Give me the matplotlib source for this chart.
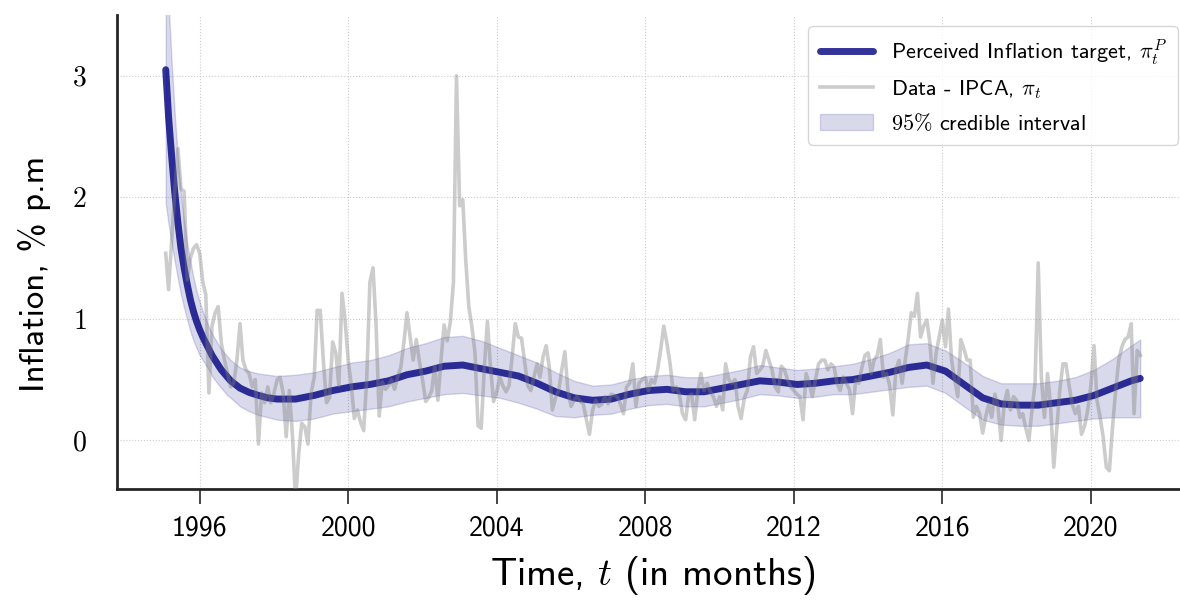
import numpy as np
import pandas as pd
import matplotlib
matplotlib.use("Agg")
import matplotlib.pyplot as plt
import matplotlib.dates as mdates
from matplotlib.ticker import FuncFormatter

plt.rcParams['font.family'] = ['cmss10']
plt.rcParams['mathtext.fontset'] = 'cm'
plt.rcParams['axes.unicode_minus'] = False
plt.rcParams['axes.formatter.use_mathtext'] = True

# Monthly IPCA inflation (% p.m.), Jan 1995 onwards
ipca = [
    1.54, 1.24, 1.65, 2.05, 2.40, 2.07, 2.05, 1.32, 1.50, 1.58, 1.61, 1.54,   # 1995
    1.30, 1.20, 0.39, 0.94, 1.05, 1.10, 0.80, 0.66, 0.55, 0.44, 0.47, 0.66,   # 1996
    0.96, 0.66, 0.58, 0.55, 0.44, 0.50, -0.03, 0.39, 0.31, 0.44, 0.31, 0.39,  # 1997
    0.50, 0.52, 0.39, 0.03, 0.41, 0.05, -0.50, -0.11, 0.14, 0.11, -0.03, 0.39,  # 1998
    0.52, 1.07, 1.07, 0.66, 0.31, 0.35, 0.81, 0.72, 0.45, 1.21, 0.99, 0.66,   # 1999
    0.45, 0.18, 0.25, 0.15, 0.08, 0.50, 1.30, 1.42, 0.95, 0.20, 0.48, 0.42,   # 2000
    0.45, 0.50, 0.42, 0.52, 0.60, 0.80, 1.05, 0.85, 0.66, 0.83, 0.65, 0.50,   # 2001
    0.32, 0.35, 0.41, 0.61, 0.33, 0.65, 0.95, 0.82, 0.97, 1.30, 3.00, 1.93,   # 2002
    1.98, 1.50, 1.10, 0.94, 0.72, 0.12, 0.10, 0.60, 0.98, 0.60, 0.32, 0.40,   # 2003
    0.52, 0.45, 0.40, 0.45, 0.69, 0.96, 0.85, 0.84, 0.65, 0.45, 0.41, 0.52,   # 2004
    0.63, 0.52, 0.69, 0.78, 0.60, 0.25, 0.35, 0.41, 0.58, 0.73, 0.41, 0.28,   # 2005
    0.33, 0.36, 0.32, 0.30, 0.17, 0.05, 0.25, 0.33, 0.28, 0.30, 0.36, 0.30,   # 2006
    0.38, 0.37, 0.36, 0.30, 0.22, 0.44, 0.47, 0.63, 0.28, 0.47, 0.50, 0.52,   # 2007
    0.41, 0.50, 0.47, 0.58, 0.75, 0.94, 0.80, 0.63, 0.41, 0.44, 0.38, 0.22,   # 2008
    0.17, 0.36, 0.38, 0.17, 0.41, 0.55, 0.41, 0.47, 0.40, 0.36, 0.28, 0.36,   # 2009
    0.25, 0.63, 0.50, 0.47, 0.50, 0.28, 0.18, 0.35, 0.41, 0.69, 0.77, 0.55,   # 2010
    0.58, 0.61, 0.74, 0.66, 0.58, 0.44, 0.40, 0.61, 0.58, 0.50, 0.44, 0.41,   # 2011
    0.38, 0.36, 0.17, 0.55, 0.47, 0.36, 0.50, 0.63, 0.66, 0.66, 0.58, 0.63,   # 2012
    0.60, 0.47, 0.41, 0.52, 0.47, 0.42, 0.22, 0.50, 0.47, 0.60, 0.70, 0.72,   # 2013
    0.55, 0.66, 0.70, 0.83, 0.52, 0.55, 0.45, 0.21, 0.58, 0.66, 0.47, 0.66,   # 2014
    0.85, 1.05, 1.02, 1.21, 0.85, 0.94, 0.99, 0.80, 0.47, 0.72, 0.85, 0.99,   # 2015
    0.77, 1.08, 0.66, 0.50, 0.36, 0.83, 0.75, 0.66, 0.66, 0.19, 0.28, 0.22,   # 2016
    0.06, 0.19, 0.30, 0.19, 0.38, 0.28, 0.00, 0.30, 0.41, 0.25, 0.36, 0.33,   # 2017
    0.19, 0.22, 0.10, 0.00, 0.25, 0.47, 1.46, 0.52, 0.19, 0.55, 0.28, -0.22,  # 2018
    0.11, 0.41, 0.63, 0.63, 0.45, 0.30, 0.22, 0.28, 0.05, 0.12, 0.25, 0.45,   # 2019
    0.78, 0.33, 0.19, 0.03, -0.22, -0.25, 0.11, 0.41, 0.66, 0.77, 0.83, 0.85,  # 2020
    0.96, 0.22, 0.74, 0.70,                                                   # 2021
]

# Perceived inflation target: posterior mean and 95% band (months since Jan 1995)
trend_month = [0, 1, 2, 3, 4, 5, 6, 7, 8, 9, 10, 11, 12, 14, 15, 17, 18, 20, 21, 24,
               27, 30, 33, 36, 42, 48, 54, 60, 66, 72, 78, 84, 90, 96, 102, 108, 114,
               120, 126, 132, 138, 144, 150, 156, 162, 168, 174, 180, 186, 192, 198,
               204, 210, 216, 222, 228, 234, 240, 246, 252, 258, 264, 270, 276, 282,
               288, 294, 300, 306, 312, 315]
trend = [3.05, 2.66, 2.33, 2.04, 1.79, 1.58, 1.42, 1.28, 1.16, 1.06, 0.98, 0.91, 0.85,
         0.75, 0.70, 0.62, 0.58, 0.52, 0.49, 0.43, 0.395, 0.37, 0.35, 0.34,
         0.34, 0.37, 0.41, 0.44, 0.46, 0.49, 0.54, 0.57, 0.61, 0.62, 0.59, 0.56, 0.53,
         0.47, 0.40, 0.35, 0.33, 0.34, 0.38, 0.41, 0.42, 0.40, 0.40, 0.43, 0.46, 0.49,
         0.48, 0.46, 0.47, 0.49, 0.50, 0.53, 0.56, 0.60, 0.62, 0.57, 0.46, 0.35, 0.30,
         0.29, 0.29, 0.31, 0.33, 0.37, 0.43, 0.49, 0.51]
lower = [1.95, 1.78, 1.62, 1.47, 1.33, 1.20, 1.09, 0.99, 0.90, 0.82, 0.76, 0.70, 0.66,
         0.58, 0.53, 0.46, 0.43, 0.37, 0.35, 0.28, 0.24, 0.21, 0.19, 0.17,
         0.16, 0.18, 0.22, 0.24, 0.26, 0.28, 0.32, 0.35, 0.38, 0.39, 0.37, 0.35, 0.31,
         0.26, 0.20, 0.19, 0.21, 0.22, 0.26, 0.29, 0.30, 0.28, 0.28, 0.31, 0.34, 0.38,
         0.37, 0.35, 0.36, 0.38, 0.38, 0.40, 0.42, 0.44, 0.45, 0.39, 0.28, 0.17, 0.13,
         0.12, 0.12, 0.14, 0.16, 0.18, 0.19, 0.19, 0.19]
upper = [4.20, 3.60, 3.10, 2.68, 2.32, 2.03, 1.80, 1.62, 1.47, 1.34, 1.23, 1.14, 1.06,
         0.93, 0.88, 0.79, 0.75, 0.69, 0.66, 0.60, 0.57, 0.55, 0.54, 0.53,
         0.54, 0.56, 0.60, 0.64, 0.66, 0.70, 0.76, 0.80, 0.85, 0.86, 0.82, 0.76, 0.70,
         0.64, 0.56, 0.49, 0.45, 0.46, 0.50, 0.53, 0.54, 0.52, 0.52, 0.55, 0.58, 0.62,
         0.60, 0.58, 0.59, 0.61, 0.63, 0.67, 0.72, 0.79, 0.80, 0.74, 0.64, 0.53, 0.47,
         0.47, 0.47, 0.49, 0.52, 0.58, 0.67, 0.78, 0.83]

dates = pd.date_range('1995-02-01', periods=len(ipca), freq='MS') - pd.Timedelta(days=1)
trend_dates = dates[trend_month]

fig = plt.figure(figsize=(11.8, 6.03), dpi=100)
ax = fig.add_axes([117 / 1180, 114 / 603, 1072 / 1180, 474 / 603])

ax.plot(trend_dates, trend, color='navy', alpha=0.8, lw=5, solid_capstyle='round',
        label=r'Perceived Inflation target, $\pi_t^P$', zorder=3)
ax.plot(dates, ipca, color='gray', alpha=0.4, lw=2.6,
        label=r'Data - IPCA, $\pi_t$', zorder=4)
ax.fill_between(trend_dates, lower, upper, color='navy', alpha=0.15,
                label=r'$95\%$ credible interval', zorder=2)

ax.set_ylim(-0.4, 3.5)
ax.set_yticks([0, 1, 2, 3])
ax.yaxis.set_major_formatter(FuncFormatter(lambda v, p: r'$%d$' % v))
ax.xaxis.set_major_locator(mdates.YearLocator(4))
ax.xaxis.set_major_formatter(mdates.DateFormatter('%Y'))

ax.grid(True, ls=':', color='#cccccc', lw=0.8)
for s in ['top', 'right']:
    ax.spines[s].set_visible(False)
for s in ['left', 'bottom']:
    ax.spines[s].set_linewidth(2)
    ax.spines[s].set_color('#262626')

ax.tick_params(axis='x', direction='out', length=11, width=1.2, pad=8,
               labelsize=20, color='#262626')
ax.tick_params(axis='y', length=0, pad=22, labelsize=20)

ax.set_xlabel(r'Time, $t$ (in months)', fontsize=28, labelpad=10)
ax.set_ylabel('Inflation, % p.m', fontsize=25)
ax.yaxis.set_label_coords(-0.062, 0.454)

ax.legend(loc='upper right', fontsize=16, handlelength=2.4, labelspacing=0.5,
          borderpad=0.5, framealpha=0.8, edgecolor='#cccccc', fancybox=True)

fig.savefig('out.png', dpi=100)
